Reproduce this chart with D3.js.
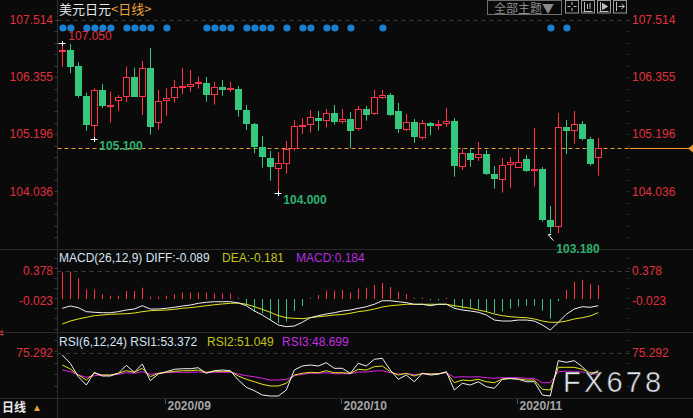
<!DOCTYPE html>
<html><head><meta charset="utf-8">
<script src="https://cdn.jsdelivr.net/npm/d3@7"></script>
<style>html,body{margin:0;padding:0;background:#0a0a0a;overflow:hidden}svg{display:block}</style>
</head><body>
<svg id="c" width="693" height="418"></svg>
<script>
// ---------- DATA ----------
const dates = [
 "2020-08-13","2020-08-14","2020-08-17","2020-08-18","2020-08-19","2020-08-20","2020-08-21","2020-08-24","2020-08-25","2020-08-26","2020-08-27","2020-08-28","2020-08-31",
 "2020-09-01","2020-09-02","2020-09-03","2020-09-04","2020-09-07","2020-09-08","2020-09-09","2020-09-10","2020-09-11","2020-09-14","2020-09-15","2020-09-16","2020-09-17","2020-09-18","2020-09-21","2020-09-22","2020-09-23","2020-09-24","2020-09-25","2020-09-28","2020-09-29","2020-09-30",
 "2020-10-01","2020-10-02","2020-10-05","2020-10-06","2020-10-07","2020-10-08","2020-10-09","2020-10-12","2020-10-13","2020-10-14","2020-10-15","2020-10-16","2020-10-19","2020-10-20","2020-10-21","2020-10-22","2020-10-23","2020-10-26","2020-10-27","2020-10-28","2020-10-29","2020-10-30",
 "2020-11-02","2020-11-03","2020-11-04","2020-11-05","2020-11-06","2020-11-09","2020-11-10","2020-11-11","2020-11-12","2020-11-13","2020-11-16"];
const open  = [106.89,106.905,106.581,105.972,105.389,106.094,105.755,105.877,105.958,106.357,105.958,106.540,105.438,105.877,105.945,106.141,106.168,106.229,106.242,105.998,106.155,106.094,106.114,105.688,105.404,104.931,104.720,104.505,104.619,104.910,105.370,105.389,105.526,105.471,105.627,105.459,105.505,105.308,105.708,105.621,105.938,105.992,105.668,105.302,105.444,105.140,105.424,105.390,105.410,105.465,104.551,104.815,104.720,104.795,104.389,104.294,104.578,104.517,104.693,104.464,104.491,103.456,103.320,105.343,105.268,105.404,105.099,104.740];
const high  = [107.05,107.027,106.656,106.039,106.128,106.215,106.059,105.992,106.566,106.546,106.682,106.946,106.094,106.128,106.296,106.540,106.499,106.364,106.357,106.262,106.296,106.262,106.175,105.789,105.424,105.160,104.856,104.835,105.059,105.485,105.519,105.688,105.668,105.708,105.789,105.708,105.647,105.769,105.769,106.094,106.094,106.033,105.830,105.607,105.505,105.485,105.444,105.485,105.728,105.525,104.910,104.910,105.038,104.876,104.551,104.714,104.734,104.931,104.775,105.322,104.531,103.740,105.627,105.485,105.668,105.465,105.140,105.126];
const low   = [106.566,106.432,105.937,105.267,105.100,105.728,105.430,105.674,105.850,105.958,105.586,105.187,105.288,105.572,105.836,106.006,106.059,106.120,105.856,105.795,105.978,106.053,105.552,105.282,104.809,104.517,104.253,104.000,104.395,104.862,105.201,105.227,105.268,105.329,105.389,105.410,104.917,105.268,105.471,105.586,105.911,105.566,105.221,105.261,105.018,105.085,105.180,105.282,105.343,104.334,104.470,104.537,104.653,104.369,104.091,104.010,104.111,104.517,104.430,104.132,103.422,103.180,103.190,104.795,105.004,105.073,104.558,104.355];
const close = [106.90,106.566,105.978,105.389,106.094,105.775,105.783,105.945,106.351,105.958,106.534,105.349,105.864,105.925,106.148,106.175,106.215,106.262,105.998,106.148,106.094,106.134,105.688,105.410,104.931,104.720,104.537,104.612,104.896,105.363,105.390,105.540,105.471,105.621,105.450,105.500,105.268,105.702,105.592,105.945,105.986,105.586,105.302,105.438,105.140,105.417,105.363,105.404,105.458,104.551,104.815,104.673,104.789,104.389,104.294,104.572,104.626,104.626,104.456,104.484,103.456,103.320,105.337,105.262,105.397,105.099,104.592,104.917];
const newsDays = [0,1,3,4,5,6,8,9,10,11,13,18,19,20,21,23,24,25,26,28,30,31,33,34,36,40,61,63];
const priceTicks = [107.514,106.355,105.196,104.036];

const diff = [-0.123,-0.093,-0.115,-0.168,-0.176,-0.182,-0.182,-0.168,-0.146,-0.133,-0.089,-0.133,-0.133,-0.123,-0.110,-0.093,-0.080,-0.057,-0.044,-0.036,-0.036,-0.036,-0.053,-0.089,-0.159,-0.212,-0.279,-0.345,-0.367,-0.358,-0.309,-0.248,-0.221,-0.199,-0.182,-0.159,-0.146,-0.123,-0.102,-0.070,-0.023,-0.023,-0.036,-0.049,-0.070,-0.070,-0.089,-0.070,-0.070,-0.123,-0.146,-0.159,-0.176,-0.212,-0.279,-0.292,-0.292,-0.279,-0.279,-0.292,-0.345,-0.411,-0.309,-0.203,-0.133,-0.102,-0.110,-0.089];
const dea  = [-0.332,-0.292,-0.265,-0.243,-0.221,-0.212,-0.203,-0.199,-0.195,-0.186,-0.168,-0.155,-0.150,-0.146,-0.137,-0.123,-0.115,-0.102,-0.089,-0.076,-0.066,-0.057,-0.053,-0.070,-0.102,-0.137,-0.176,-0.221,-0.248,-0.256,-0.261,-0.248,-0.235,-0.225,-0.212,-0.206,-0.190,-0.168,-0.155,-0.133,-0.106,-0.089,-0.080,-0.070,-0.070,-0.070,-0.070,-0.070,-0.070,-0.089,-0.106,-0.123,-0.146,-0.168,-0.199,-0.221,-0.235,-0.243,-0.248,-0.265,-0.292,-0.309,-0.309,-0.292,-0.265,-0.248,-0.225,-0.181];
const macdHist = [0.354,0.362,0.274,0.128,0.128,0.062,0.044,0.044,0.106,0.106,0.150,0.031,0.031,0.044,0.062,0.084,0.084,0.084,0.084,0.075,0.075,0.075,0.010,-0.080,-0.168,-0.190,-0.278,-0.322,-0.300,-0.159,-0.093,0.010,0.053,0.110,0.110,0.120,0.084,0.137,0.150,0.186,0.212,0.159,0.097,0.066,0.005,0.005,-0.005,-0.005,0.005,-0.110,-0.130,-0.120,-0.140,-0.175,-0.185,-0.165,-0.130,-0.100,-0.090,-0.090,-0.155,-0.260,-0.030,0.120,0.230,0.255,0.198,0.184];
const macdTicks = [0.378,-0.023];

const rsi1 = [72.28,62.28,46.14,36.13,51.44,46.98,46.98,50.23,59.87,51.44,61.43,41.31,49.39,52.16,55.05,55.77,55.77,56.98,50.23,53.36,54.21,53.36,42.16,33.36,29.27,24.09,22.88,22.88,30.11,54.21,59.03,60.23,59.03,63.00,56.25,56.25,50.23,62.28,59.03,67.10,68.30,54.21,43.00,48.18,40.11,50.23,48.18,49.03,52.16,30.11,38.18,36.13,40.11,34.09,32.16,43.00,44.21,43.00,40.11,40.11,24.09,22.88,65.41,63.48,65.41,58.18,48.18,53.372];
const rsi2 = [60.23,55.41,48.18,42.16,50.23,48.18,48.18,50.23,53.36,51.44,56.25,46.14,50.23,51.44,52.64,53.36,53.36,54.21,51.44,52.64,52.64,52.64,46.98,43.00,40.11,36.98,34.93,34.93,38.18,48.18,50.23,51.44,50.95,53.36,50.95,50.95,50.23,55.05,54.21,58.18,59.03,52.16,48.18,50.23,46.98,50.23,49.39,49.75,51.44,38.91,42.16,41.31,43.00,40.11,38.91,43.36,43.72,43.36,42.16,42.16,30.95,30.11,57.46,57.46,57.46,55.05,50.95,51.049];
const rsi3 = [54.21,52.16,48.18,45.41,47.34,48.18,48.18,49.03,50.95,50.23,52.16,49.03,50.23,50.95,51.44,51.44,51.44,51.80,50.95,51.44,51.44,51.44,49.39,47.34,46.14,44.21,42.16,42.16,43.00,47.34,49.03,50.23,50.23,50.95,49.75,49.80,49.75,51.80,51.80,53.00,53.36,50.95,49.39,49.75,48.54,49.39,49.39,49.75,50.95,45.41,46.14,45.77,46.14,44.93,44.21,44.93,44.93,44.93,44.21,44.21,38.91,38.91,52.16,52.64,52.64,51.80,50.23,48.699];
const rsiTicks = [75.292];
const monthTicks = [{i:13,label:"2020/09"},{i:35,label:"2020/10"},{i:57,label:"2020/11"}];

// ---------- DRAW ----------
const W=693,H=418,BG="#0a0a0a";
const RED="#ff3347",GREEN="#34c77d",AXRED="#e0303e",LBLGREEN="#2eb070";
const FONT="'Liberation Sans',Arial,sans-serif";
const CJK="'Noto Sans CJK SC','Noto Sans',sans-serif";
const svg=d3.select("#c");
svg.append("rect").attr("width",W).attr("height",H).attr("fill",BG);

const n=dates.length;
const x=d3.scaleBand().domain(d3.range(n)).range([58.3,58.3+8*n]).paddingInner(0.125).paddingOuter(0.0625);
const cx=i=>x(i)+x.bandwidth()/2;
const y=d3.scaleLinear().domain([104.036,107.514]).range([191.4,20]);
const yM=d3.scaleLinear().domain([0,0.378]).range([299,270.5]);
const yR=d3.scaleLinear().domain([50,75.292]).range([373.5,352.5]);

const L=57.5,R=629.5;
// panel separators
[249.5,332.5,398.5].forEach(v=>svg.append("line").attr("x1",0).attr("x2",W).attr("y1",v).attr("y2",v).attr("stroke","#2a2a2a"));
svg.append("line").attr("x1",L).attr("x2",L).attr("y1",0).attr("y2",H).attr("stroke","#2e2e2e");

// minor ticks
function minorTicks(y0,y1,step){
  for(let v=y0; v<=y1; v+=step){
    const yy=Math.round(v)+0.5;
    svg.append("line").attr("x1",L-3).attr("x2",L).attr("y1",yy).attr("y2",yy).attr("stroke","#3a3a3a");
    svg.append("line").attr("x1",R-2).attr("x2",R).attr("y1",yy).attr("y2",yy).attr("stroke","#3a3a3a");
  }
}
minorTicks(y(107.514), 246, (y(106.355)-y(107.514))/5);
minorTicks(258, 330, (yM(-0.023)-yM(0.378))/3);
minorTicks(340, 396, 11.4);

// header
const hdr=svg.append("text").attr("x",59).attr("y",14).attr("font-family",CJK).attr("font-size",13);
hdr.append("tspan").attr("fill","#e8e8e8").text("美元日元");
hdr.append("tspan").attr("fill","#e8a33c").text("<日线>");

// top right buttons
svg.append("rect").attr("x",487.5).attr("y",0.5).attr("width",74).attr("height",14).attr("fill","none").attr("stroke","#6e6e6e");
svg.append("text").attr("x",494).attr("y",12.5).attr("font-family",CJK).attr("font-size",12).attr("fill","#8c8c8c").text("全部主题▼");
[565.5,581.5,597.5,613.5].forEach((bx,k)=>{
  svg.append("rect").attr("x",bx).attr("y",0.5).attr("width",13).attr("height",12.5).attr("fill","none").attr("stroke","#9a9a9a");
  const g=svg.append("g").attr("stroke","#bdbdbd").attr("fill","none");
  if(k===0){g.append("path").attr("d",`M${bx+6.5},2 v3 M${bx+6.5},8 v3 M${bx+2},6.5 h3 M${bx+8},6.5 h3`);}
  if(k===1){g.append("path").attr("d",`M${bx+3},2 v9 M${bx+2},11.5 h9 M${bx+6},4 v5 M${bx+8.5},3 v6`);}
  if(k===2){g.append("path").attr("d",`M${bx+3},2 v9 M${bx+2},11.5 h9`);g.append("path").attr("d",`M${bx+5},3.5 L${bx+10},6.5 L${bx+5},9.5 Z`).attr("fill","#bdbdbd");}
  if(k===3){g.append("path").attr("d",`M${bx+3},2 v9 M${bx+5},6.5 h6 M${bx+8},4 L${bx+11},6.5 L${bx+8},9`);}
});

// dashed reference lines
const dash=(yy,col)=>svg.append("line").attr("x1",L).attr("x2",R).attr("y1",yy).attr("y2",yy).attr("stroke",col).attr("stroke-dasharray","4,4");
dash(Math.round(y(107.514))+0.5,"#3c3c3c");
dash(Math.round(yM(0.378))+0.5,"#3c3c3c");
dash(Math.round(yR(75.292))+0.5,"#3c3c3c");

// price axis labels
priceTicks.forEach(v=>{
  svg.append("text").attr("x",53).attr("y",y(v)).attr("dy","0.35em").attr("text-anchor","end").attr("font-family",FONT).attr("font-size",12).attr("fill",AXRED).text(v.toFixed(3));
  svg.append("text").attr("x",632).attr("y",y(v)).attr("dy","0.35em").attr("font-family",FONT).attr("font-size",12).attr("fill",AXRED).text(v.toFixed(3));
});

// news dots
svg.append("g").selectAll("circle").data(newsDays).join("circle")
  .attr("cx",i=>cx(i)+0.6).attr("cy",28).attr("r",3.6).attr("fill","#1b7fd0");

// last close dashed line
const lastY=Math.round(y(close[n-1]))+0.5;
svg.append("line").attr("x1",L).attr("x2",R).attr("y1",lastY).attr("y2",lastY).attr("stroke","#e89a30").attr("stroke-dasharray","4,3");
svg.append("line").attr("x1",R).attr("x2",W).attr("y1",lastY).attr("y2",lastY).attr("stroke","#e89a30");
svg.append("path").attr("d",`M${W},${lastY-4} L${W-5},${lastY} L${W},${lastY+4} Z`).attr("fill","#e89a30");

// candles
const cg=svg.append("g");
d3.range(n).forEach(i=>{
  const up=close[i]>=open[i];
  const xc=Math.round(x(i))+3.5;
  const yo=y(open[i]), yc=y(close[i]), yh=y(high[i]), yl=y(low[i]);
  const top=Math.min(yo,yc), bot=Math.max(yo,yc);
  const col=up?RED:GREEN;
  if(up){
    if(bot-top<2){
      cg.append("line").attr("x1",xc).attr("x2",xc).attr("y1",yh).attr("y2",yl).attr("stroke",col);
      cg.append("rect").attr("x",Math.round(x(i))).attr("y",Math.round(top)).attr("width",7).attr("height",Math.max(2,Math.round(bot-top))).attr("fill",col);
    } else {
      cg.append("line").attr("x1",xc).attr("x2",xc).attr("y1",yh).attr("y2",top).attr("stroke",col);
      cg.append("line").attr("x1",xc).attr("x2",xc).attr("y1",bot).attr("y2",yl).attr("stroke",col);
      cg.append("rect").attr("x",Math.round(x(i))+0.5).attr("y",Math.round(top)+0.5).attr("width",6).attr("height",Math.round(bot-top)).attr("fill",BG).attr("stroke",col);
    }
  } else {
    cg.append("line").attr("x1",xc).attr("x2",xc).attr("y1",yh).attr("y2",yl).attr("stroke",col);
    cg.append("rect").attr("x",Math.round(x(i))).attr("y",Math.round(top)).attr("width",7).attr("height",Math.max(2,Math.round(bot-top))).attr("fill",col);
  }
});

// extreme markers
const hiI=d3.maxIndex(high);
function cross(px,py){
  svg.append("path").attr("d",`M${px-3.5},${py+0.5} h7 M${px+0.5},${py-2} v5`).attr("stroke","#ffffff").attr("stroke-width",1);
}
cross(Math.round(cx(hiI)),Math.round(y(high[hiI])));
svg.append("text").attr("x",cx(hiI)+6).attr("y",y(high[hiI])-3).attr("font-family",FONT).attr("font-size",12).attr("fill",AXRED).text(high[hiI].toFixed(3));
[4,27].forEach(i=>{
  cross(Math.round(cx(i)),Math.round(y(low[i])));
  svg.append("text").attr("x",cx(i)+5).attr("y",y(low[i])+11).attr("font-family",FONT).attr("font-size",12).attr("font-weight","bold").attr("fill",LBLGREEN).text(low[i].toFixed(3));
});
const loI=d3.minIndex(low);
svg.append("path").attr("d",`M${cx(loI)-2},${y(low[loI])+1} L${cx(loI)+3},${y(low[loI])+7} M${cx(loI)-2},${y(low[loI])+1} h3`).attr("stroke","#ffffff");
svg.append("text").attr("x",cx(loI)+6).attr("y",y(low[loI])+19).attr("font-family",FONT).attr("font-size",12).attr("font-weight","bold").attr("fill",LBLGREEN).text(low[loI].toFixed(3));

// MACD panel
svg.append("text").attr("x",59).attr("y",262).attr("font-family",FONT).attr("font-size",12).attr("fill","#d6e4f5").text("MACD(26,12,9) DIFF:"+diff[n-1].toFixed(3));
svg.append("text").attr("x",222).attr("y",262).attr("font-family",FONT).attr("font-size",12).attr("fill","#c4c41c").text("DEA:"+dea[n-1].toFixed(3));
svg.append("text").attr("x",296).attr("y",262).attr("font-family",FONT).attr("font-size",12).attr("fill","#b52ee0").text("MACD:"+macdHist[n-1].toFixed(3));
macdTicks.forEach(v=>{
  svg.append("text").attr("x",53).attr("y",yM(v)).attr("dy","0.35em").attr("text-anchor","end").attr("font-family",FONT).attr("font-size",12).attr("fill",AXRED).text(v.toFixed(3));
  svg.append("text").attr("x",632).attr("y",yM(v)).attr("dy","0.35em").attr("font-family",FONT).attr("font-size",12).attr("fill",AXRED).text(v.toFixed(3));
});
macdHist.forEach((v,i)=>{
  const xc=Math.round(x(i))+3.5;
  const y0=yM(0), y1=yM(v);
  const yy1=Math.abs(y1-y0)<1.2?(v>=0?y0-1.2:y0+1.2):y1;
  svg.append("line").attr("x1",xc).attr("x2",xc).attr("y1",y0).attr("y2",yy1).attr("stroke",v>=0?RED:GREEN);
});
const lineM=d3.line().x((d,i)=>cx(i)).y(d=>yM(d));
svg.append("path").attr("d",lineM(dea)).attr("fill","none").attr("stroke","#e6e61e").attr("stroke-width",1);
svg.append("path").attr("d",lineM(diff)).attr("fill","none").attr("stroke","#f0f0f0").attr("stroke-width",1);

// RSI panel
svg.append("text").attr("x",59).attr("y",346).attr("font-family",FONT).attr("font-size",12).attr("fill","#d6e4f5").text("RSI(6,12,24) RSI1:"+rsi1[n-1].toFixed(3));
svg.append("text").attr("x",207).attr("y",346).attr("font-family",FONT).attr("font-size",12).attr("fill","#c4c41c").text("RSI2:"+rsi2[n-1].toFixed(3));
svg.append("text").attr("x",282).attr("y",346).attr("font-family",FONT).attr("font-size",12).attr("fill","#c62ee6").text("RSI3:"+rsi3[n-1].toFixed(3));
rsiTicks.forEach(v=>{
  svg.append("text").attr("x",53).attr("y",yR(v)).attr("dy","0.35em").attr("text-anchor","end").attr("font-family",FONT).attr("font-size",12).attr("fill",AXRED).text(v.toFixed(3));
  svg.append("text").attr("x",632).attr("y",yR(v)).attr("dy","0.35em").attr("font-family",FONT).attr("font-size",12).attr("fill",AXRED).text(v.toFixed(3));
});
const lineR=d3.line().x((d,i)=>cx(i)).y(d=>yR(d));
svg.append("path").attr("d",lineR(rsi3)).attr("fill","none").attr("stroke","#e020e8");
svg.append("path").attr("d",lineR(rsi2)).attr("fill","none").attr("stroke","#e6e61e");
svg.append("path").attr("d",lineR(rsi1)).attr("fill","none").attr("stroke","#f0f0f0");

// watermark
svg.append("text").attr("x",563).attr("y",392).attr("font-family",FONT).attr("font-size",29).attr("letter-spacing",3.2)
  .attr("fill","#e4e8f0").attr("stroke","#1a1a1a").attr("stroke-width",0.6).text("FX678");

// bottom axis
monthTicks.forEach(m=>{
  const xx=Math.round(cx(m.i))-0.5;
  svg.append("line").attr("x1",xx).attr("x2",xx).attr("y1",399).attr("y2",404).attr("stroke","#555");
  svg.append("text").attr("x",xx+2).attr("y",410).attr("font-family",FONT).attr("font-size",12).attr("font-weight","bold").attr("fill","#a4a4a4").text(m.label);
});
svg.append("text").attr("x",2).attr("y",412).attr("font-family",CJK).attr("font-size",12).attr("font-weight","bold").attr("fill","#e8e8e8").text("日线");
svg.append("text").attr("x",32).attr("y",411).attr("font-family",FONT).attr("font-size",10).attr("fill","#e8a33c").text("▲");
// small red glyph at left edge
svg.append("path").attr("d","M0,331.5 h3 M0,334.5 h4 M2,330 v6").attr("stroke","#c03030");
</script>
</body></html>
